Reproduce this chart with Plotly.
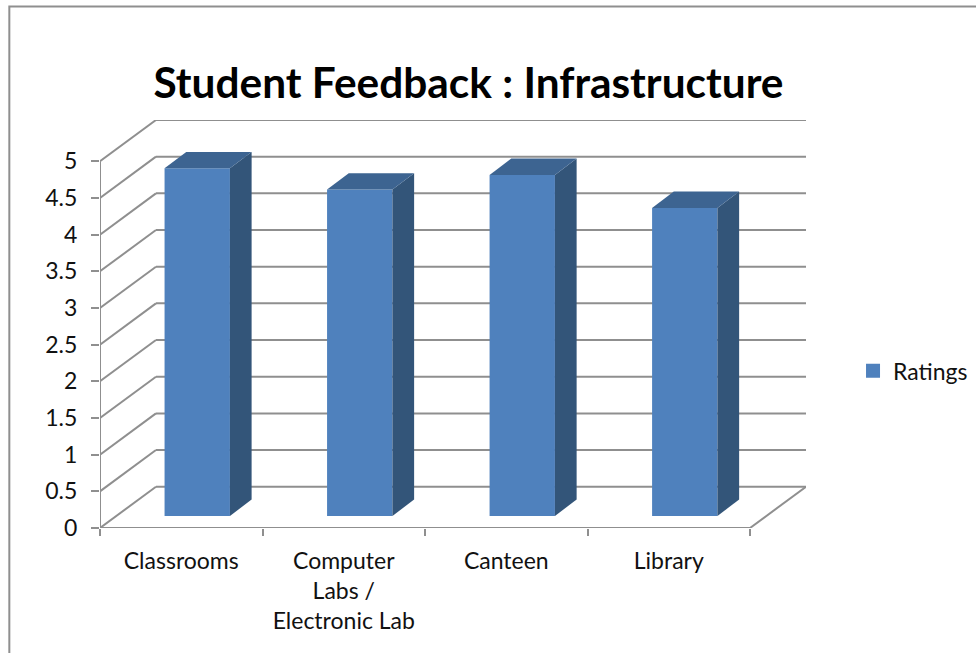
import plotly.graph_objects as go

categories = ["Classrooms", "Computer<br>Labs /<br>Electronic Lab", "Canteen", "Library"]
ratings = [4.74, 4.45, 4.65, 4.2]
y_ticks = [0, 0.5, 1, 1.5, 2, 2.5, 3, 3.5, 4, 4.5, 5]
y_labels = ["0", "0.5", "1", "1.5", "2", "2.5", "3", "3.5", "4", "4.5", "5"]

# pixel sizes of one axis unit, used to turn the fake 3D depth into axis units
px_x = 162.6
px_y = 73.2
wall_dx = 56 / px_x
wall_dy = 41.2 / px_y
bar_shift_x = 16 / px_x
bar_base = 12 / px_y
bar_width = 65.4 / px_x
side_dx = 21.7 / px_x
side_dy = 16.4 / px_y

grid_color = "#8f8f8f"
FONT = "Lato, Carlito, Calibri, sans-serif"

fig = go.Figure()
shapes = []


def grid_shape(x0, y0, x1, y1):
    # shapes sit below the bars, traces would draw over them
    shapes.append(dict(type="line", xref="x", yref="y", layer="below",
                       x0=x0, y0=y0, x1=x1, y1=y1,
                       line=dict(color=grid_color, width=2)))


def edge_line(xs, ys):
    # these lie on the plot edge, so they must not be clipped
    fig.add_trace(go.Scatter(
        x=xs, y=ys, mode="lines", showlegend=False, hoverinfo="skip",
        line=dict(color=grid_color, width=2), cliponaxis=False
    ))


for v in y_ticks:
    grid_shape(0, v, wall_dx, v + wall_dy)
    if v < max(y_ticks):
        grid_shape(wall_dx, v + wall_dy, 4 + wall_dx, v + wall_dy)

grid_shape(4, 0, 4 + wall_dx, wall_dy)
edge_line([wall_dx, 4 + wall_dx], [5 + wall_dy, 5 + wall_dy])
edge_line([0, 4], [0, 0])
edge_line([0, 0], [0, 5])

centers = [i + 0.5 + bar_shift_x for i in range(len(ratings))]

# front faces
fig.add_trace(go.Bar(
    x=centers, y=ratings, base=bar_base, width=bar_width,
    marker=dict(color="#4f81bd", line=dict(width=0)),
    showlegend=False
))

# side and top faces of each bar
for c, r in zip(centers, ratings):
    left = c - bar_width / 2
    right = c + bar_width / 2
    top = bar_base + r
    fig.add_trace(go.Scatter(
        x=[right, right + side_dx, right + side_dx, right, right],
        y=[bar_base, bar_base + side_dy, top + side_dy, top, bar_base],
        mode="lines", fill="toself", fillcolor="#335579",
        line=dict(width=0), showlegend=False, hoverinfo="skip"
    ))
    fig.add_trace(go.Scatter(
        x=[left, left + side_dx, right + side_dx, right, left],
        y=[top, top + side_dy, top + side_dy, top, top],
        mode="lines", fill="toself", fillcolor="#3d6491",
        line=dict(width=0), showlegend=False, hoverinfo="skip"
    ))

# legend entry
fig.add_trace(go.Scatter(
    x=[None], y=[None], mode="markers", name="Ratings",
    marker=dict(symbol="square", size=14, color="#4f81bd")
))

# chart area border, only top and left fall inside the picture
plot_w = 976 - 99.5 - 169.5
plot_h = 653 - 120 - 125.3
shapes.append(dict(type="rect", xref="paper", yref="paper", layer="below",
                   x0=(8.7 - 99.5) / plot_w, x1=1.4,
                   y0=-0.5, y1=1 + (120 - 6.5) / plot_h,
                   line=dict(color=grid_color, width=2)))

fig.update_layout(
    width=976,
    height=653,
    margin=dict(l=99.5, r=169.5, t=120, b=125.3, pad=0),
    paper_bgcolor="white",
    plot_bgcolor="rgba(0,0,0,0)",
    font=dict(family=FONT, size=23, color="#111111"),
    title=dict(
        text="<b>Student Feedback : Infrastructure</b>",
        font=dict(family=FONT, size=42.4, color="black"),
        x=0.48, xanchor="center", y=0.873, yanchor="middle"
    ),
    # container reference so the legend does not shrink the plot area
    legend=dict(xref="container", yref="container",
                x=0.874, xanchor="left", y=0.432, yanchor="middle",
                font=dict(size=23), bgcolor="rgba(0,0,0,0)"),
    xaxis=dict(
        range=[0, 4 + wall_dx],
        tickmode="array",
        tickvals=[0.5, 1.5, 2.5, 3.5],
        ticktext=categories,
        ticks="",
        showgrid=False,
        zeroline=False,
        showline=False,
        ticklabelstandoff=17,
        minor=dict(tickmode="array", tickvals=[0, 1, 2, 3, 4], ticks="outside",
                   ticklen=7, tickwidth=2, tickcolor=grid_color, showgrid=False)
    ),
    yaxis=dict(
        range=[0, 5 + wall_dy],
        tickmode="array",
        tickvals=y_ticks,
        ticktext=y_labels,
        ticks="outside",
        ticklen=8,
        tickwidth=2,
        tickcolor=grid_color,
        ticklabelstandoff=9,
        showgrid=False,
        zeroline=False,
        showline=False
    ),
    shapes=shapes
)

fig.write_html("out.html", config=dict(displayModeBar=False),
               post_script="document.body.style.margin='0';")
